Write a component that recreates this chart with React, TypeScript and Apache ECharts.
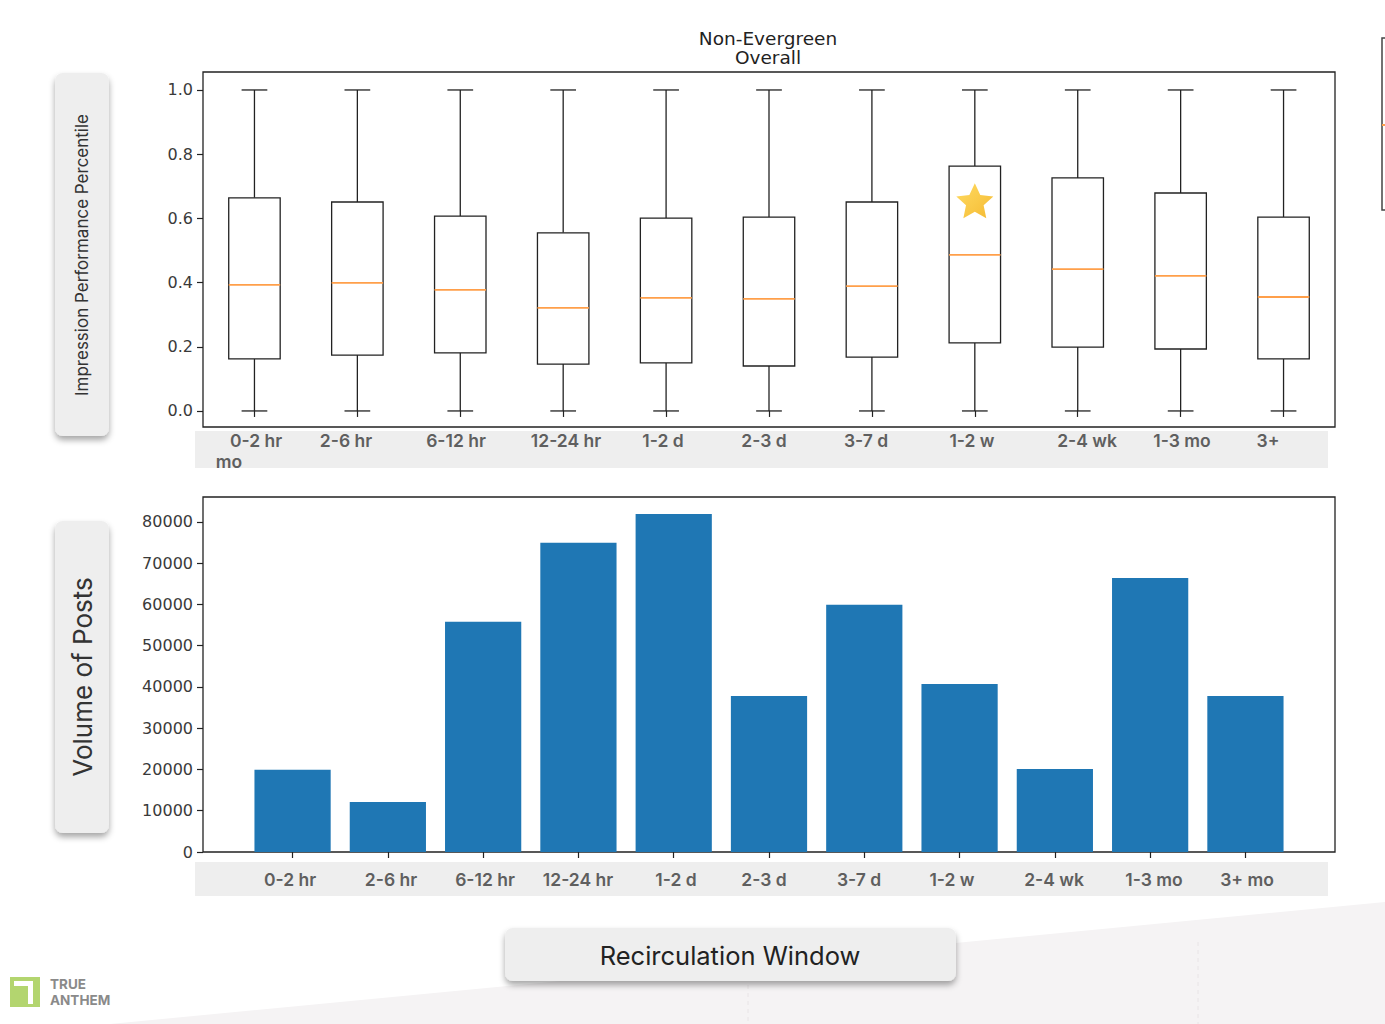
import React, { useEffect, useRef } from "react";
import * as echarts from "echarts";

// ---------- data ----------
const categories = ["0-2 hr", "2-6 hr", "6-12 hr", "12-24 hr", "1-2 d", "2-3 d", "3-7 d", "1-2 w", "2-4 wk", "1-3 mo", "3+ mo"];
const whiskerLow = [0, 0, 0, 0, 0, 0, 0, 0, 0, 0, 0];
const q1 = [0.162, 0.174, 0.181, 0.146, 0.150, 0.140, 0.168, 0.212, 0.199, 0.193, 0.162];
const median = [0.393, 0.399, 0.377, 0.321, 0.352, 0.349, 0.389, 0.486, 0.442, 0.421, 0.355];
const q3 = [0.664, 0.651, 0.607, 0.555, 0.601, 0.604, 0.651, 0.763, 0.726, 0.679, 0.604];
const whiskerHigh = [1, 1, 1, 1, 1, 1, 1, 1, 1, 1, 1];
const postVolume = [19900, 12100, 55800, 74900, 81900, 37800, 59900, 40700, 20100, 66400, 37800];
const starCategory = "1-2 w";
const starValue = 0.655;
const topYTicks = [0, 0.2, 0.4, 0.6, 0.8, 1.0];
const bottomYTicks = [0, 10000, 20000, 30000, 40000, 50000, 60000, 70000, 80000];
const title = ["Non-Evergreen", "Overall"];
const topYLabel = "Impression Performance Percentile";
const bottomYLabel = "Volume of Posts";
const xTitle = "Recirculation Window";
const logoLines = ["TRUE", "ANTHEM"];

// ---------- layout (overlay label positions) ----------
const topLabelText = ["0-2 hr", "2-6 hr", "6-12 hr", "12-24 hr", "1-2 d", "2-3 d", "3-7 d", "1-2 w", "2-4 wk", "1-3 mo", "3+"];
const topLabelX = [256, 346, 456, 566, 663, 764, 866, 972, 1087, 1182, 1268];
const bottomLabelX = [290, 391, 485, 578, 676, 764, 859, 952, 1054, 1154, 1247];

const positions = categories.map((_, i) => i + 1);

export default function App() {
  const ref = useRef<HTMLDivElement>(null);
  useEffect(() => {
    if (!ref.current) return;
    const chart = echarts.init(ref.current, null, { renderer: "svg" });

    const boxData = categories.map((_, i) => [positions[i], whiskerLow[i], q1[i], median[i], q3[i], whiskerHigh[i]]);
    const barData = postVolume.map((v, i) => [positions[i], v]);
    const starIdx = categories.indexOf(starCategory);

    const tickFont = { fontFamily: "DejaVu Sans", fontSize: 16, color: "#3a3a3a" };
    const bandFont = { fontFamily: "Inter", fontSize: 17.5, fontWeight: 600, fill: "#5f5f5f" };

    const graphics: any[] = [
      // background slanted area
      { type: "polygon", z: -10, shape: { points: [[110, 1024], [1385, 1024], [1385, 902]] }, style: { fill: "#f5f3f4" } },
      { type: "line", z: -9, shape: { x1: 748, y1: 985, x2: 748, y2: 1024 }, style: { stroke: "#e8e4e6", lineDash: [4, 4], lineWidth: 1 } },
      { type: "line", z: -9, shape: { x1: 1198, y1: 942, x2: 1198, y2: 1024 }, style: { stroke: "#e8e4e6", lineDash: [4, 4], lineWidth: 1 } },
      // title
      { type: "text", x: 768, y: 38, style: { text: title[0], fontFamily: "DejaVu Sans", fontSize: 18.5, fill: "#222", align: "center", verticalAlign: "middle" } },
      { type: "text", x: 768, y: 57, style: { text: title[1], fontFamily: "DejaVu Sans", fontSize: 18.5, fill: "#222", align: "center", verticalAlign: "middle" } },
      // left label panels
      { type: "rect", shape: { x: 55, y: 73, width: 54, height: 363, r: 8 }, style: { fill: "#eeeeee", shadowBlur: 6, shadowOffsetY: 4, shadowColor: "rgba(0,0,0,0.35)" } },
      { type: "text", x: 82, y: 255, rotation: Math.PI / 2, style: { text: topYLabel, fontFamily: "Inter", fontSize: 17, fill: "#333", align: "center", verticalAlign: "middle" } },
      { type: "rect", shape: { x: 55, y: 521, width: 54, height: 312, r: 8 }, style: { fill: "#eeeeee", shadowBlur: 6, shadowOffsetY: 4, shadowColor: "rgba(0,0,0,0.35)" } },
      { type: "text", x: 82, y: 677, rotation: Math.PI / 2, style: { text: bottomYLabel, fontFamily: "Inter", fontSize: 26, fill: "#333", align: "center", verticalAlign: "middle" } },
      // x label bands
      { type: "rect", z: -1, shape: { x: 195, y: 431, width: 1133, height: 37 }, style: { fill: "#eeeeee" } },
      { type: "rect", z: -1, shape: { x: 195, y: 862, width: 1133, height: 34 }, style: { fill: "#eeeeee" } },
      // recirculation window box
      { type: "rect", shape: { x: 505, y: 928, width: 451, height: 53, r: 8 }, style: { fill: "#eeeeee", shadowBlur: 6, shadowOffsetY: 4, shadowColor: "rgba(0,0,0,0.35)" } },
      { type: "text", x: 730, y: 955, style: { text: xTitle, fontFamily: "Inter", fontSize: 25.5, fill: "#222", align: "center", verticalAlign: "middle" } },
      // partial legend at right edge
      { type: "polyline", shape: { points: [[1386, 38], [1382, 38], [1382, 210], [1386, 210]] }, style: { stroke: "#444", lineWidth: 1.5, fill: null } },
      { type: "rect", shape: { x: 1382, y: 124, width: 3, height: 2 }, style: { fill: "#ff9f4a" } },
      // logo
      { type: "rect", shape: { x: 10, y: 977, width: 30, height: 30 }, style: { fill: "#b3d56f" } },
      { type: "polygon", shape: { points: [[14, 981], [33, 981], [33, 1004], [28, 1004], [28, 986], [14, 986]] }, style: { fill: "#ffffff" } },
      { type: "text", x: 50, y: 983.5, style: { text: logoLines[0], fontFamily: "Inter", fontWeight: 700, fontSize: 13.5, fill: "#8a8a8a", verticalAlign: "middle" } },
      { type: "text", x: 50, y: 1000, style: { text: logoLines[1], fontFamily: "Inter", fontWeight: 700, fontSize: 13.5, fill: "#8a8a8a", verticalAlign: "middle" } },
    ];
    topLabelText.forEach((t, i) => {
      graphics.push({ type: "text", z: 0, x: topLabelX[i], y: 440, style: { text: t, ...bandFont, align: "center", verticalAlign: "middle" } });
    });
    graphics.push({ type: "text", x: 229, y: 461, style: { text: "mo", ...bandFont, align: "center", verticalAlign: "middle" } });
    categories.forEach((t, i) => {
      graphics.push({ type: "text", x: bottomLabelX[i], y: 879, style: { text: t, ...bandFont, align: "center", verticalAlign: "middle" } });
    });

    const option: any = {
      animation: false,
      backgroundColor: "#ffffff",
      grid: [
        { left: 203, top: 72, width: 1132, height: 355, show: true, borderColor: "#222", borderWidth: 1.3, backgroundColor: "transparent", outerBoundsMode: "none" },
        { left: 203, top: 497, width: 1132, height: 355, show: true, borderColor: "#222", borderWidth: 1.3, backgroundColor: "transparent", outerBoundsMode: "none" },
      ],
      xAxis: [
        {
          type: "value", gridIndex: 0, min: 0.5, max: 11.5,
          axisLine: { show: false }, splitLine: { show: false },
          axisTick: { show: true, customValues: positions, length: 6, lineStyle: { color: "#222", width: 1.2 } },
          axisLabel: { show: false },
        },
        {
          type: "value", gridIndex: 1, min: 0.06, max: 11.94,
          axisLine: { show: false }, splitLine: { show: false },
          axisTick: { show: true, customValues: positions, length: 6, lineStyle: { color: "#222", width: 1.2 } },
          axisLabel: { show: false },
        },
      ],
      yAxis: [
        {
          type: "value", gridIndex: 0, min: -0.05, max: 1.056,
          axisLine: { show: false }, splitLine: { show: false },
          axisTick: { show: true, customValues: topYTicks, length: 6, lineStyle: { color: "#222", width: 1.2 } },
          axisLabel: { customValues: topYTicks, formatter: (v: number) => v.toFixed(1), margin: 10, ...tickFont },
        },
        {
          type: "value", gridIndex: 1, min: 0, max: 86000,
          axisLine: { show: false }, splitLine: { show: false },
          axisTick: { show: true, customValues: bottomYTicks, length: 6, lineStyle: { color: "#222", width: 1.2 } },
          axisLabel: { customValues: bottomYTicks, formatter: (v: number) => String(v), margin: 10, ...tickFont },
        },
      ],
      series: [
        {
          type: "custom", xAxisIndex: 0, yAxisIndex: 0,
          data: boxData,
          encode: { x: 0, y: [1, 2, 3, 4, 5] },
          renderItem: (params: any, api: any) => {
            const x = api.value(0);
            const lo = api.coord([x, api.value(1)]);
            const b1 = api.coord([x, api.value(2)]);
            const md = api.coord([x, api.value(3)]);
            const b3 = api.coord([x, api.value(4)]);
            const hi = api.coord([x, api.value(5)]);
            const w = api.size([0.5, 0])[0];
            const cw = w / 2;
            const cx = b1[0];
            const stroke = { stroke: "#222", lineWidth: 1.3, fill: null };
            return {
              type: "group",
              children: [
                { type: "line", shape: { x1: cx, y1: b1[1], x2: cx, y2: lo[1] }, style: stroke },
                { type: "line", shape: { x1: cx - cw / 2, y1: lo[1], x2: cx + cw / 2, y2: lo[1] }, style: stroke },
                { type: "line", shape: { x1: cx, y1: b3[1], x2: cx, y2: hi[1] }, style: stroke },
                { type: "line", shape: { x1: cx - cw / 2, y1: hi[1], x2: cx + cw / 2, y2: hi[1] }, style: stroke },
                { type: "rect", shape: { x: cx - w / 2, y: b3[1], width: w, height: b1[1] - b3[1] }, style: { stroke: "#222", lineWidth: 1.3, fill: "#ffffff" } },
                { type: "line", shape: { x1: cx - w / 2, y1: md[1], x2: cx + w / 2, y2: md[1] }, style: { stroke: "#ff9f4a", lineWidth: 1.8 } },
              ],
            };
          },
        },
        {
          type: "scatter", xAxisIndex: 0, yAxisIndex: 0, z: 5,
          data: [[positions[starIdx], starValue]],
          symbol: "path://M12,1.5 L15.1,8.2 L22.5,9.1 L17,14.1 L18.5,21.5 L12,17.8 L5.5,21.5 L7,14.1 L1.5,9.1 L8.9,8.2 Z",
          symbolSize: [37, 35],
          itemStyle: {
            color: {
              type: "linear", x: 0, y: 0, x2: 1, y2: 1,
              colorStops: [{ offset: 0, color: "#ffd23a" }, { offset: 1, color: "#f2a900" }],
            },
          },
        },
        {
          type: "custom", xAxisIndex: 1, yAxisIndex: 1,
          data: barData,
          encode: { x: 0, y: 1 },
          renderItem: (params: any, api: any) => {
            const x = api.value(0);
            const top = api.coord([x - 0.4, api.value(1)]);
            const bot = api.coord([x + 0.4, 0]);
            return {
              type: "rect",
              shape: { x: top[0], y: top[1], width: bot[0] - top[0], height: bot[1] - top[1] },
              style: { fill: "#1f77b4" },
            };
          },
        },
      ],
      graphic: graphics,
    };
    chart.setOption(option);
    return () => chart.dispose();
  }, []);
  return <div ref={ref} style={{ position: "fixed", left: 0, top: 0, width: 1385, height: 1024 }} />;
}
